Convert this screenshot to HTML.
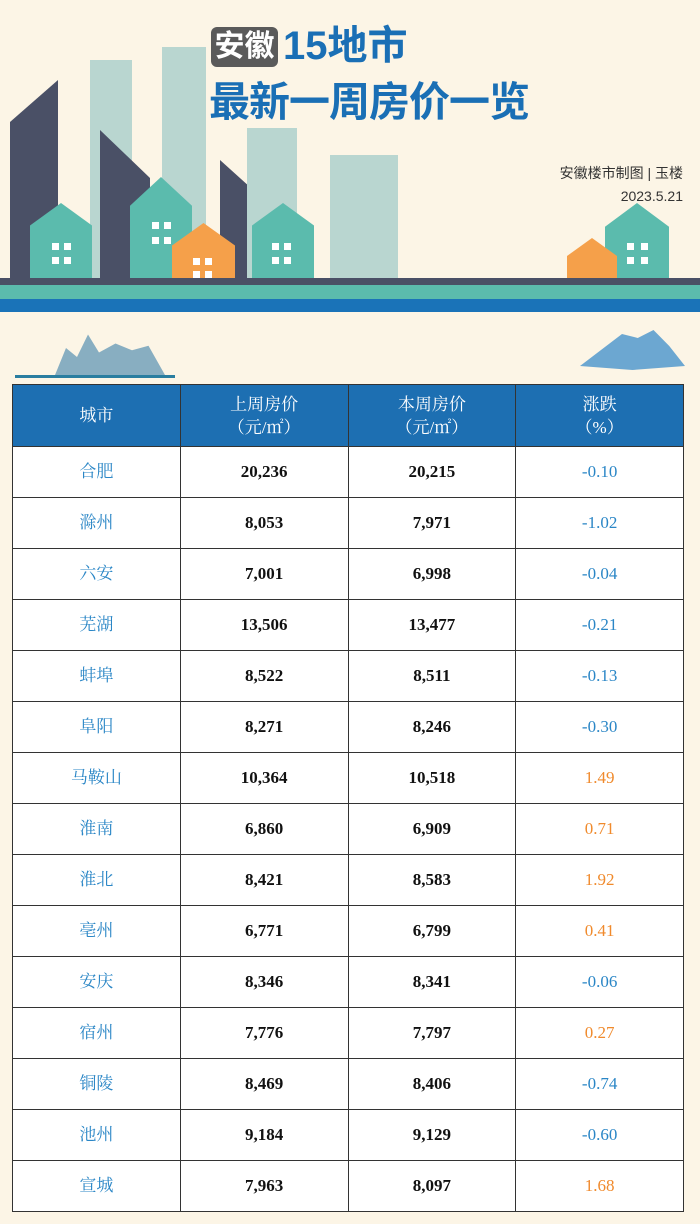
<!DOCTYPE html>
<html><head><meta charset="utf-8"><style>
body{margin:0;width:700px;height:1224px;background:#fcf5e6;position:relative;overflow:hidden;font-family:"Liberation Serif","Noto Serif CJK SC",serif}
.a{position:absolute}
table{position:absolute;left:12px;top:384px;width:672px;border-collapse:collapse;table-layout:fixed}
tr{height:51px}
td{border:1.5px solid #333;text-align:center;padding:0;background:#fff;font-size:17px;font-weight:bold;color:#111;line-height:20px}
th{border:1.5px solid #333;background:#1d6fb2;color:#fff;height:59px;font-weight:normal;font-size:17px;line-height:23px}
td.c{color:#2a86c6;font-weight:normal}
td.n{color:#2a86c6;font-weight:normal}
td.p{color:#f08a2c;font-weight:normal}
.w{position:absolute;width:7px;height:7px;background:#fff}
</style></head><body>
<div class="a" style="left:10px;top:80px;width:48px;height:210px;background:#4a5066;clip-path:polygon(0 20%,100% 0,100% 100%,0 100%)"></div>
<div class="a" style="left:90px;top:60px;width:42px;height:220px;background:#b9d6d0"></div>
<div class="a" style="left:100px;top:130px;width:50px;height:160px;background:#4a5066;clip-path:polygon(0 0,100% 30%,100% 100%,0 100%)"></div>
<div class="a" style="left:162px;top:47px;width:44px;height:240px;background:#b9d6d0"></div>
<div class="a" style="left:220px;top:160px;width:48px;height:130px;background:#4a5066;clip-path:polygon(0 0,60% 20%,100% 20%,100% 100%,0 100%)"></div>
<div class="a" style="left:247px;top:128px;width:50px;height:160px;background:#b9d6d0"></div>
<div class="a" style="left:330px;top:155px;width:68px;height:135px;background:#b9d6d0"></div>
<div class="a" style="left:30px;top:203px;width:62px;height:90px;background:#5bbbad;clip-path:polygon(50% 0,100% 25%,100% 100%,0 100%,0 25%)"></div>
<div class="a" style="left:130px;top:177px;width:62px;height:115px;background:#5bbbad;clip-path:polygon(50% 0,100% 25%,100% 100%,0 100%,0 25%)"></div>
<div class="a" style="left:172px;top:223px;width:63px;height:75px;background:#f5a04a;clip-path:polygon(50% 0,100% 30%,100% 100%,0 100%,0 30%)"></div>
<div class="a" style="left:252px;top:203px;width:62px;height:90px;background:#5bbbad;clip-path:polygon(50% 0,100% 25%,100% 100%,0 100%,0 25%)"></div>
<div class="a" style="left:605px;top:203px;width:64px;height:95px;background:#5bbbad;clip-path:polygon(50% 0,100% 25%,100% 100%,0 100%,0 25%)"></div>
<div class="a" style="left:567px;top:238px;width:50px;height:60px;background:#f5a04a;clip-path:polygon(50% 0,100% 30%,100% 100%,0 100%,0 30%)"></div>
<div class="w" style="left:52px;top:243px"></div><div class="w" style="left:64px;top:243px"></div><div class="w" style="left:52px;top:257px"></div><div class="w" style="left:64px;top:257px"></div>
<div class="w" style="left:152px;top:222px"></div><div class="w" style="left:164px;top:222px"></div><div class="w" style="left:152px;top:237px"></div><div class="w" style="left:164px;top:237px"></div>
<div class="w" style="left:193px;top:258px"></div><div class="w" style="left:205px;top:258px"></div><div class="w" style="left:193px;top:271px"></div><div class="w" style="left:205px;top:271px"></div>
<div class="w" style="left:272px;top:243px"></div><div class="w" style="left:284px;top:243px"></div><div class="w" style="left:272px;top:257px"></div><div class="w" style="left:284px;top:257px"></div>
<div class="w" style="left:627px;top:243px"></div><div class="w" style="left:641px;top:243px"></div><div class="w" style="left:627px;top:257px"></div><div class="w" style="left:641px;top:257px"></div>
<div class="a" style="left:0;top:278px;width:700px;height:10px;background:#4a5066"></div>
<div class="a" style="left:0;top:285px;width:700px;height:14px;background:#5bbbad"></div>
<div class="a" style="left:0;top:299px;width:700px;height:13px;background:#1a73b8"></div>
<div class="a" style="left:211px;top:27px;width:67px;height:40px;background:#5a5a5a;border-radius:6px;color:#fff;font:bold 30px 'Liberation Sans','Noto Sans CJK SC',sans-serif;line-height:40px;text-align:center">安徽</div>
<div class="a" style="left:283px;top:22px;color:#1a6fb5;font:bold 40px 'Liberation Sans','Noto Sans CJK SC',sans-serif;line-height:48px">15地市</div>
<div class="a" style="left:209px;top:78px;color:#1a6fb5;font:bold 41px 'Liberation Sans','Noto Sans CJK SC',sans-serif;line-height:48px;letter-spacing:-1px">最新一周房价一览</div>
<div class="a" style="right:17px;top:162px;color:#333;font:14px 'Liberation Sans','Noto Sans CJK SC',sans-serif;text-align:right;line-height:23px">安徽楼市制图 | 玉楼<br>2023.5.21</div>
<div class="a" style="left:15px;top:375px;width:160px;height:3px;background:#2a7ea0"></div>
<div class="a" style="left:55px;top:330px;width:110px;height:45px;background:#3a7fa8;opacity:.6;clip-path:polygon(0 100%,10% 40%,20% 60%,30% 10%,40% 50%,55% 30%,70% 45%,85% 35%,100% 100%)"></div>
<div class="a" style="left:580px;top:330px;width:105px;height:40px;background:#2f86c8;opacity:.7;clip-path:polygon(0 90%,25% 40%,40% 10%,55% 20%,70% 0,85% 40%,100% 90%,50% 100%)"></div>
<table>
<tr style="height:61px"><th>城市</th><th>上周房价<br>（元/㎡）</th><th>本周房价<br>（元/㎡）</th><th>涨跌<br>（%）</th></tr>
<tr><td class="c">合肥</td><td>20,236</td><td>20,215</td><td class="n">-0.10</td></tr>
<tr><td class="c">滁州</td><td>8,053</td><td>7,971</td><td class="n">-1.02</td></tr>
<tr><td class="c">六安</td><td>7,001</td><td>6,998</td><td class="n">-0.04</td></tr>
<tr><td class="c">芜湖</td><td>13,506</td><td>13,477</td><td class="n">-0.21</td></tr>
<tr><td class="c">蚌埠</td><td>8,522</td><td>8,511</td><td class="n">-0.13</td></tr>
<tr><td class="c">阜阳</td><td>8,271</td><td>8,246</td><td class="n">-0.30</td></tr>
<tr><td class="c">马鞍山</td><td>10,364</td><td>10,518</td><td class="p">1.49</td></tr>
<tr><td class="c">淮南</td><td>6,860</td><td>6,909</td><td class="p">0.71</td></tr>
<tr><td class="c">淮北</td><td>8,421</td><td>8,583</td><td class="p">1.92</td></tr>
<tr><td class="c">亳州</td><td>6,771</td><td>6,799</td><td class="p">0.41</td></tr>
<tr><td class="c">安庆</td><td>8,346</td><td>8,341</td><td class="n">-0.06</td></tr>
<tr><td class="c">宿州</td><td>7,776</td><td>7,797</td><td class="p">0.27</td></tr>
<tr><td class="c">铜陵</td><td>8,469</td><td>8,406</td><td class="n">-0.74</td></tr>
<tr><td class="c">池州</td><td>9,184</td><td>9,129</td><td class="n">-0.60</td></tr>
<tr><td class="c">宣城</td><td>7,963</td><td>8,097</td><td class="p">1.68</td></tr>
</table>
</body></html>
